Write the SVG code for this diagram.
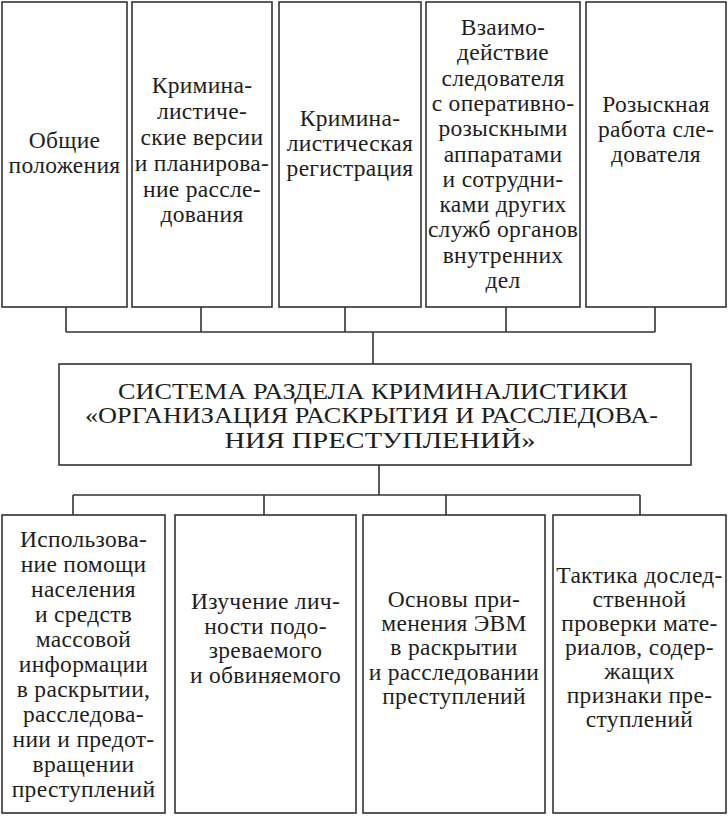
<svg xmlns="http://www.w3.org/2000/svg" width="728" height="822" viewBox="0 0 728 822">
<style>
.box{fill:#ffffff;stroke:#333333;stroke-width:1.6}
.ln{fill:none;stroke:#333333;stroke-width:1.6}
text{font-family:"Liberation Serif","Times New Roman",serif;font-size:23.5px;letter-spacing:0.3px;fill:#1e1e1e;text-anchor:middle}
.cap{font-size:24px;letter-spacing:0}
</style>
<rect width="728" height="822" fill="#ffffff"/>
<g id="connectors">
<path class="ln" d="M66,307V332M201,307V332M345,307V332M506,307V332M655,307V332M66,332H655M373,332V364"/>
<path class="ln" d="M379,465V495M73,495H640M73,495V515M264,495V515M446,495V515M640,495V515"/>
</g>
<g id="t1">
<rect class="box" x="2" y="2" width="125" height="305"/>
<text x="64.5" y="148">Общие</text>
<text x="64.5" y="173">положения</text>
</g>
<g id="t2">
<rect class="box" x="132" y="2" width="140" height="305"/>
<text x="202" y="93">Кримина-</text>
<text x="202" y="119">листиче-</text>
<text x="202" y="145">ские версии</text>
<text x="202" y="171">и планирова-</text>
<text x="202" y="197">ние рассле-</text>
<text x="202" y="222">дования</text>
</g>
<g id="t3">
<rect class="box" x="279" y="2" width="142" height="305"/>
<text x="350" y="126">Кримина-</text>
<text x="350" y="151">листическая</text>
<text x="350" y="176">регистрация</text>
</g>
<g id="t4">
<rect class="box" x="426" y="2" width="154" height="305"/>
<text x="503" y="35">Взаимо-</text>
<text x="503" y="60">действие</text>
<text x="503" y="86">следователя</text>
<text x="503" y="111">с оперативно-</text>
<text x="503" y="136">розыскными</text>
<text x="503" y="162">аппаратами</text>
<text x="503" y="187">и сотрудни-</text>
<text x="503" y="212">ками других</text>
<text x="503" y="237">служб органов</text>
<text x="503" y="263">внутренних</text>
<text x="503" y="288">дел</text>
</g>
<g id="t5">
<rect class="box" x="586" y="2" width="140" height="305"/>
<text x="656" y="112">Розыскная</text>
<text x="656" y="137">работа сле-</text>
<text x="656" y="162">дователя</text>
</g>
<g id="main">
<rect class="box" x="59" y="364" width="632" height="101"/>
<text class="cap" x="373" y="399" textLength="510" lengthAdjust="spacingAndGlyphs">СИСТЕМА РАЗДЕЛА КРИМИНАЛИСТИКИ</text>
<text class="cap" x="371.5" y="423" textLength="573" lengthAdjust="spacingAndGlyphs">«ОРГАНИЗАЦИЯ РАСКРЫТИЯ И РАССЛЕДОВА-</text>
<text class="cap" x="380" y="448" textLength="311" lengthAdjust="spacingAndGlyphs">НИЯ ПРЕСТУПЛЕНИЙ»</text>
</g>
<g id="b1">
<rect class="box" x="2" y="515" width="163" height="298"/>
<text x="83.5" y="547">Использова-</text>
<text x="83.5" y="572">ние помощи</text>
<text x="83.5" y="597">населения</text>
<text x="83.5" y="622">и средств</text>
<text x="83.5" y="647">массовой</text>
<text x="83.5" y="672">информации</text>
<text x="83.5" y="697">в раскрытии,</text>
<text x="83.5" y="722">расследова-</text>
<text x="83.5" y="747">нии и предот-</text>
<text x="83.5" y="772">вращении</text>
<text x="83.5" y="797">преступлений</text>
</g>
<g id="b2">
<rect class="box" x="175" y="515" width="181" height="298"/>
<text x="265.5" y="609">Изучение лич-</text>
<text x="265.5" y="634">ности подо-</text>
<text x="265.5" y="658">зреваемого</text>
<text x="265.5" y="683">и обвиняемого</text>
</g>
<g id="b3">
<rect class="box" x="363" y="515" width="182" height="298"/>
<text x="454" y="607">Основы при-</text>
<text x="454" y="631">менения ЭВМ</text>
<text x="454" y="655">в раскрытии</text>
<text x="454" y="680">и расследовании</text>
<text x="454" y="704">преступлений</text>
</g>
<g id="b4">
<rect class="box" x="553" y="515" width="173" height="298"/>
<text x="639.5" y="583">Тактика дослед-</text>
<text x="639.5" y="607">ственной</text>
<text x="639.5" y="631">проверки мате-</text>
<text x="639.5" y="655">риалов, содер-</text>
<text x="639.5" y="679">жащих</text>
<text x="639.5" y="703">признаки пре-</text>
<text x="639.5" y="727">ступлений</text>
</g>
</svg>
